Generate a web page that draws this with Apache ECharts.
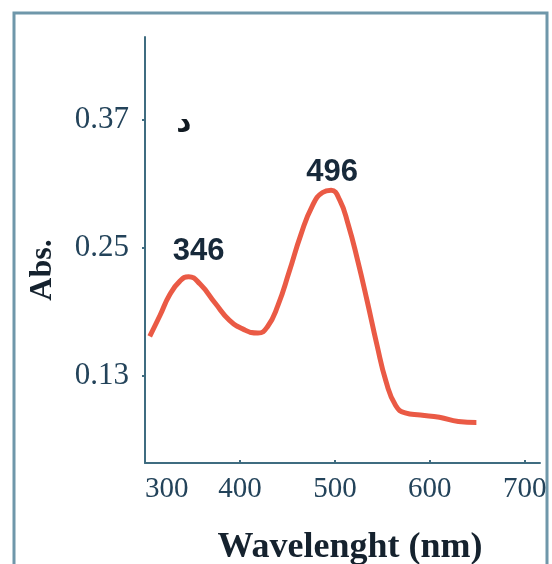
<!DOCTYPE html>
<html>
<head>
<meta charset="utf-8">
<script src="https://cdn.jsdelivr.net/npm/echarts@6/dist/echarts.min.js"></script>
<style>
  html, body { margin: 0; padding: 0; background: #ffffff; }
  #chart { width: 552px; height: 564px; }
</style>
</head>
<body>
<div id="chart"></div>
<script>
// Absorption spectrum: wavelength (nm) vs absorbance
const wavelengths = [305, 316, 326, 337, 346, 358, 374, 389, 405, 419, 429, 440, 452, 464, 476, 487, 496, 505, 514, 524, 534, 544, 554, 564, 574, 590, 610, 630, 649];
const absorbance  = [0.167, 0.187, 0.206, 0.219, 0.223, 0.216, 0.198, 0.182, 0.173, 0.170, 0.176, 0.196, 0.228, 0.262, 0.289, 0.302, 0.304, 0.295, 0.272, 0.238, 0.200, 0.160, 0.124, 0.102, 0.095, 0.093, 0.091, 0.087, 0.086];
const peakWavelengths = [346, 496];
const xTicks = [300, 400, 500, 600, 700];
const yTicks = [0.13, 0.25, 0.37];

const axisColor = '#3f6c80';
const tickTextColor = '#23435a';
const serif = '"Liberation Serif", "Times New Roman", serif';

const curveData = wavelengths.map((w, i) => [w, absorbance[i]]);

// Label placement for each peak marker (distance above the point, sideways shift)
const peakLabelPlacement = [
  { distance: 9, dx: 10 },
  { distance: 2, dx: 1 }
];

// One invisible marker per peak maximum, labelled with its wavelength
const peakSeries = peakWavelengths.map((w, k) => {
  const i = wavelengths.indexOf(w);
  return {
    type: 'scatter',
    data: [[w, absorbance[i]]],
    symbolSize: 1,
    itemStyle: { color: 'rgba(0,0,0,0)', opacity: 1 },
    label: {
      show: true,
      position: 'top',
      distance: peakLabelPlacement[k].distance,
      formatter: p => String(p.value[0]),
      fontFamily: '"Liberation Sans", Arial, sans-serif',
      fontWeight: 'bold',
      fontSize: 31,
      color: '#17293a'
    },
    labelLayout: { hideOverlap: false, dx: peakLabelPlacement[k].dx },
    z: 5
  };
});

const chart = echarts.init(document.getElementById('chart'), null, { renderer: 'canvas' });
chart.setOption({
  animation: false,
  backgroundColor: '#ffffff',
  grid: { left: 145, right: 12, top: 37, bottom: 101, containLabel: false },
  xAxis: {
    type: 'value',
    min: 300,
    max: 716,
    axisLine: { show: true, lineStyle: { color: axisColor, width: 2 } },
    axisTick: { show: true, inside: true, length: 3, customValues: xTicks, lineStyle: { color: axisColor, width: 2 } },
    axisLabel: {
      customValues: xTicks,
      margin: 12,
      alignMinLabel: 'left',
      fontFamily: serif,
      fontSize: 29,
      color: tickTextColor
    },
    splitLine: { show: false }
  },
  yAxis: {
    type: 'value',
    min: 0.048,
    max: 0.448,
    axisLine: { show: true, lineStyle: { color: axisColor, width: 2 } },
    axisTick: { show: true, length: 3, customValues: yTicks, lineStyle: { color: axisColor, width: 2 } },
    axisLabel: {
      customValues: yTicks,
      margin: 16,
      formatter: v => v.toFixed(2),
      fontFamily: serif,
      fontSize: 31,
      color: tickTextColor
    },
    splitLine: { show: false }
  },
  series: [
    {
      type: 'line',
      data: curveData,
      smooth: 0.5,
      symbol: 'none',
      lineStyle: { color: '#ea5a45', width: 5 }
    }
  ].concat(peakSeries),
  graphic: [
    {
      type: 'rect',
      shape: { x: 14, y: 13, width: 533, height: 570 },
      style: { fill: 'none', stroke: '#6f97aa', lineWidth: 3 },
      silent: true
    },
    {
      type: 'text',
      x: 43, y: 270,
      rotation: Math.PI / 2,
      style: {
        text: 'Abs.',
        font: 'bold 32px ' + serif,
        fill: '#15222e',
        align: 'center',
        verticalAlign: 'middle'
      }
    },
    {
      type: 'text',
      x: 350, y: 548,
      style: {
        text: 'Wavelenght (nm)',
        font: 'bold 36px ' + serif,
        fill: '#15222e',
        align: 'center',
        verticalAlign: 'middle'
      }
    },
    {
      type: 'text',
      x: 184, y: 123,
      style: {
        text: 'د',
        font: 'bold 30px "DejaVu Sans", sans-serif',
        fill: '#111a22',
        align: 'center',
        verticalAlign: 'middle'
      }
    }
  ]
});
</script>
</body>
</html>
